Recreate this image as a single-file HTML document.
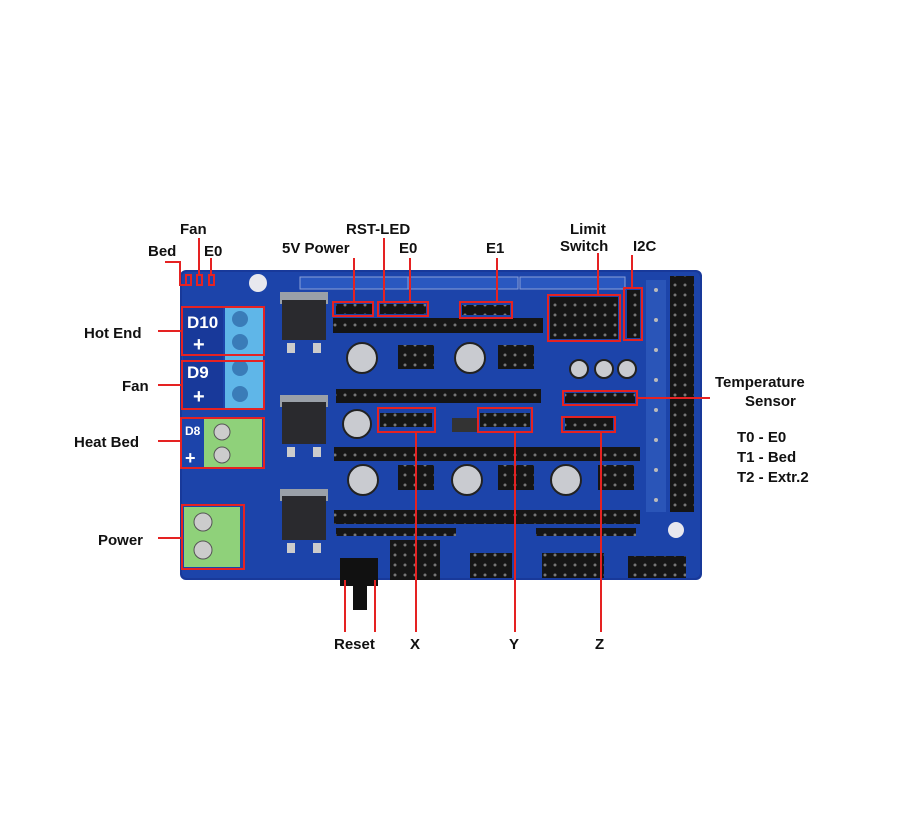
<!DOCTYPE html>
<html><head><style>
body{margin:0;background:#fff;}
svg{display:block}
text{font-family:"Liberation Sans",Arial,sans-serif;font-weight:bold;fill:#111;}
</style></head><body>
<svg width="914" height="814" viewBox="0 0 914 814">
<defs>
<pattern id="pins" width="10" height="10" patternUnits="userSpaceOnUse"><rect width="10" height="10" fill="#151515"/><circle cx="5" cy="5" r="1.5" fill="#777"/></pattern>
</defs>
<rect width="914" height="814" fill="#fff"/>
<rect x="180" y="270" width="522" height="310" rx="6" fill="#18399a"/>
<rect x="182" y="272" width="518" height="306" rx="5" fill="#1c44aa"/>
<rect x="300" y="277" width="125" height="12" fill="#2a58c0" stroke="#8aa0d8" stroke-width="1"/>
<rect x="408" y="277" width="110" height="12" fill="#2a58c0" stroke="#8aa0d8" stroke-width="1"/>
<rect x="520" y="277" width="105" height="12" fill="#2a58c0" stroke="#8aa0d8" stroke-width="1"/>
<circle cx="258" cy="283" r="9" fill="#e8e8ee"/>
<circle cx="676" cy="530" r="8" fill="#e8e8ee"/>
<rect x="670" y="276" width="24" height="236" fill="url(#pins)"/>
<rect x="646" y="280" width="20" height="232" fill="#2a55b8"/>
<g fill="#bbb"><circle cx="656" cy="290" r="2"/><circle cx="656" cy="320" r="2"/><circle cx="656" cy="350" r="2"/><circle cx="656" cy="380" r="2"/><circle cx="656" cy="410" r="2"/><circle cx="656" cy="440" r="2"/><circle cx="656" cy="470" r="2"/><circle cx="656" cy="500" r="2"/></g>
<rect x="225" y="308" width="38" height="100" fill="#5fb6e8"/>
<circle cx="240" cy="319" r="8" fill="#3a7cb8"/><circle cx="240" cy="342" r="8" fill="#3a7cb8"/>
<circle cx="240" cy="368" r="8" fill="#3a7cb8"/><circle cx="240" cy="394" r="8" fill="#3a7cb8"/>
<rect x="204" y="419" width="58" height="48" fill="#8fd17a"/>
<circle cx="222" cy="432" r="8" fill="#ccc" stroke="#555"/><circle cx="222" cy="455" r="8" fill="#ccc" stroke="#555"/>
<rect x="184" y="507" width="56" height="60" fill="#8fd17a"/>
<circle cx="203" cy="522" r="9" fill="#ccc" stroke="#555"/><circle cx="203" cy="550" r="9" fill="#ccc" stroke="#555"/>
<rect x="183" y="308" width="40" height="100" fill="#18399a"/>
<text x="187" y="328" font-size="17" style="fill:#fff">D10</text>
<text x="193" y="351" font-size="20" style="fill:#fff">+</text>
<text x="187" y="378" font-size="17" style="fill:#fff">D9</text>
<text x="193" y="403" font-size="20" style="fill:#fff">+</text>
<text x="185" y="435" font-size="12" style="fill:#fff">D8</text>
<text x="185" y="464" font-size="18" style="fill:#fff">+</text>
<g fill="#9aa0a8"><rect x="280" y="292" width="48" height="12"/><rect x="280" y="395" width="48" height="12"/><rect x="280" y="489" width="48" height="12"/></g>
<g fill="#2a2a2e"><rect x="282" y="300" width="44" height="40"/><rect x="282" y="402" width="44" height="42"/><rect x="282" y="496" width="44" height="44"/></g>
<g fill="#ccc"><rect x="287" y="343" width="8" height="10"/><rect x="313" y="343" width="8" height="10"/><rect x="287" y="447" width="8" height="10"/><rect x="313" y="447" width="8" height="10"/><rect x="287" y="543" width="8" height="10"/><rect x="313" y="543" width="8" height="10"/></g>
<g fill="url(#pins)">
<rect x="333" y="318" width="210" height="15"/>
<rect x="336" y="389" width="205" height="14"/>
<rect x="334" y="447" width="306" height="14"/>
<rect x="334" y="510" width="306" height="14"/>
<rect x="398" y="345" width="36" height="24"/><rect x="498" y="345" width="36" height="24"/>
<rect x="398" y="465" width="36" height="25"/><rect x="498" y="465" width="36" height="25"/><rect x="598" y="465" width="36" height="25"/>
<rect x="550" y="297" width="68" height="42"/>
<rect x="390" y="540" width="50" height="40"/>
<rect x="470" y="553" width="42" height="25"/>
<rect x="542" y="553" width="62" height="25"/>
<rect x="628" y="556" width="58" height="22"/>
<rect x="336" y="528" width="120" height="8"/><rect x="536" y="528" width="100" height="8"/>
</g>
<rect x="340" y="558" width="38" height="28" fill="#111"/>
<rect x="353" y="586" width="14" height="24" fill="#111"/>
<rect x="452" y="418" width="25" height="14" fill="#333"/>
<g fill="#c9cbd0" stroke="#222" stroke-width="2">
<circle cx="362" cy="358" r="15"/><circle cx="470" cy="358" r="15"/><circle cx="357" cy="424" r="14"/>
<circle cx="363" cy="480" r="15"/><circle cx="467" cy="480" r="15"/><circle cx="566" cy="480" r="15"/>
<circle cx="579" cy="369" r="9"/><circle cx="604" cy="369" r="9"/><circle cx="627" cy="369" r="9"/>
</g>
<g fill="url(#pins)"><rect x="336" y="304" width="36" height="10"/><rect x="380" y="304" width="46" height="10"/><rect x="462" y="305" width="48" height="10"/>
<rect x="565" y="393" width="70" height="10"/><rect x="380" y="413" width="52" height="14"/><rect x="480" y="413" width="50" height="14"/><rect x="565" y="418" width="48" height="12"/><rect x="627" y="290" width="13" height="48"/></g>
<g fill="none" stroke="#e52222" stroke-width="2">
<rect x="182" y="307" width="82" height="48"/><rect x="182" y="361" width="82" height="48"/>
<rect x="181" y="418" width="83" height="50"/><rect x="182" y="505" width="62" height="64"/>
<rect x="333" y="302" width="40" height="14"/><rect x="378" y="302" width="50" height="14"/>
<rect x="460" y="302" width="52" height="16"/><rect x="548" y="295" width="72" height="46"/>
<rect x="624" y="288" width="18" height="52"/><rect x="563" y="391" width="74" height="14"/>
<rect x="378" y="408" width="57" height="24"/><rect x="478" y="408" width="54" height="24"/>
<rect x="562" y="417" width="53" height="15"/>
<rect x="186" y="275" width="5" height="10"/><rect x="197" y="275" width="5" height="10"/><rect x="209" y="275" width="5" height="10"/>
</g>
<g stroke="#e52222" stroke-width="2" fill="none">
<polyline points="165,262 180,262 180,285 188,285"/>
<line x1="199" y1="238" x2="199" y2="275"/>
<line x1="211" y1="258" x2="211" y2="275"/>
<line x1="354" y1="258" x2="354" y2="302"/>
<line x1="384" y1="238" x2="384" y2="302"/>
<line x1="410" y1="258" x2="410" y2="302"/>
<line x1="497" y1="258" x2="497" y2="302"/>
<line x1="598" y1="253" x2="598" y2="295"/>
<line x1="632" y1="255" x2="632" y2="288"/>
<line x1="158" y1="331" x2="182" y2="331"/>
<line x1="158" y1="385" x2="182" y2="385"/>
<line x1="158" y1="441" x2="181" y2="441"/>
<line x1="158" y1="538" x2="182" y2="538"/>
<line x1="637" y1="398" x2="710" y2="398"/>
<polyline points="345,632 345,580"/><polyline points="375,632 375,580"/>
<line x1="416" y1="432" x2="416" y2="632"/>
<line x1="515" y1="432" x2="515" y2="632"/>
<line x1="601" y1="432" x2="601" y2="632"/>
</g>
<g font-size="15">
<text x="180" y="234">Fan</text>
<text x="148" y="256">Bed</text>
<text x="204" y="256">E0</text>
<text x="346" y="234">RST-LED</text>
<text x="282" y="253">5V Power</text>
<text x="399" y="253">E0</text>
<text x="486" y="253">E1</text>
<text x="570" y="234">Limit</text>
<text x="560" y="251">Switch</text>
<text x="633" y="251">I2C</text>
<text x="84" y="338">Hot End</text>
<text x="122" y="391">Fan</text>
<text x="74" y="447">Heat Bed</text>
<text x="98" y="545">Power</text>
<text x="715" y="387">Temperature</text>
<text x="745" y="406">Sensor</text>
<text x="737" y="442">T0 - E0</text>
<text x="737" y="462">T1 - Bed</text>
<text x="737" y="482">T2 - Extr.2</text>
<text x="334" y="649">Reset</text>
<text x="410" y="649">X</text>
<text x="509" y="649">Y</text>
<text x="595" y="649">Z</text>
</g>
</svg>
</body></html>
